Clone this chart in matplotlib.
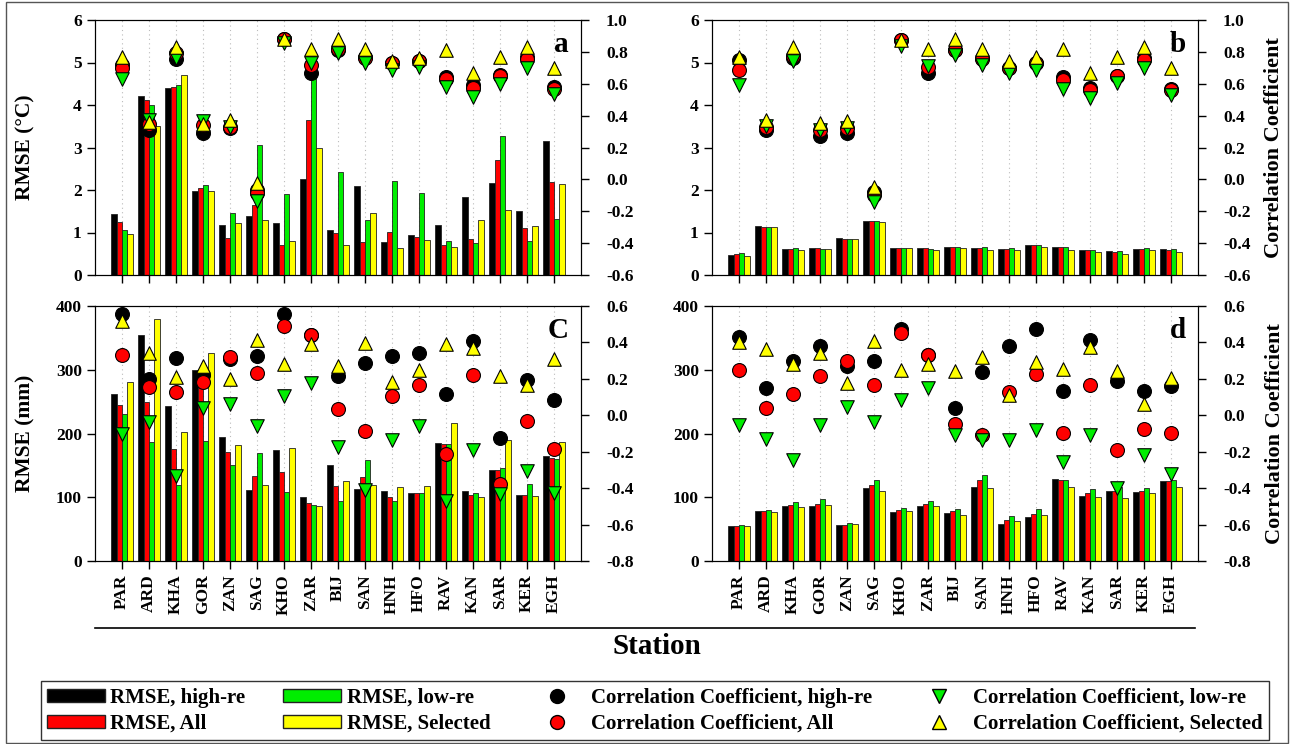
import numpy as np
import matplotlib
matplotlib.use("Agg")
from matplotlib import pyplot as plt
from matplotlib.patches import Patch, Rectangle
from matplotlib.lines import Line2D

plt.rcParams['font.family'] = ['Liberation Serif', 'DejaVu Serif']
plt.rcParams['font.weight'] = 'bold'

stations = ['PAR', 'ARD', 'KHA', 'GOR', 'ZAN', 'SAG', 'KHO', 'ZAR', 'BIJ',
            'SAN', 'HNH', 'HFO', 'RAV', 'KAN', 'SAR', 'KER', 'EGH']

# panel a - temperature RMSE (°C)
a_high = [1.43, 4.22, 4.39, 1.98, 1.18, 1.39, 1.22, 2.26, 1.05, 2.09, 0.78, 0.94, 1.18, 1.84, 2.17, 1.51, 3.15]
a_all = [1.25, 4.11, 4.42, 2.04, 0.86, 1.64, 0.71, 3.64, 1.00, 0.77, 1.01, 0.89, 0.70, 0.85, 2.71, 1.11, 2.20]
a_low = [1.07, 4.00, 4.46, 2.11, 1.45, 3.07, 1.90, 5.00, 2.43, 1.29, 2.21, 1.92, 0.80, 0.76, 3.26, 0.80, 1.31]
a_sel = [0.96, 3.50, 4.71, 1.97, 1.22, 1.30, 0.81, 2.99, 0.70, 1.46, 0.63, 0.82, 0.65, 1.29, 1.52, 1.16, 2.13]
# panel a - correlation
a_c_high = [0.72, 0.31, 0.755, 0.29, 0.32, -0.067, 0.88, 0.67, 0.81, 0.77, 0.73, 0.74, 0.64, 0.59, 0.655, 0.77, 0.578]
a_c_all = [0.697, 0.35, 0.79, 0.34, 0.33, -0.088, 0.88, 0.718, 0.82, 0.764, 0.73, 0.74, 0.628, 0.575, 0.65, 0.753, 0.57]
a_c_low = [0.628, 0.37, 0.764, 0.366, 0.33, -0.133, 0.854, 0.728, 0.795, 0.728, 0.686, 0.707, 0.58, 0.52, 0.60, 0.70, 0.536]
a_c_sel = [0.77, 0.36, 0.83, 0.35, 0.37, -0.02, 0.88, 0.82, 0.88, 0.82, 0.74, 0.76, 0.81, 0.67, 0.77, 0.83, 0.70]

# panel b
b_high = [0.47, 1.15, 0.62, 0.64, 0.87, 1.26, 0.64, 0.64, 0.67, 0.64, 0.61, 0.70, 0.66, 0.59, 0.56, 0.62, 0.61]
b_all = [0.49, 1.14, 0.62, 0.63, 0.855, 1.27, 0.64, 0.63, 0.67, 0.64, 0.61, 0.70, 0.66, 0.58, 0.55, 0.62, 0.60]
b_low = [0.51, 1.14, 0.635, 0.62, 0.855, 1.28, 0.64, 0.62, 0.67, 0.65, 0.63, 0.71, 0.67, 0.60, 0.565, 0.64, 0.61]
b_sel = [0.455, 1.12, 0.59, 0.62, 0.84, 1.25, 0.635, 0.59, 0.63, 0.60, 0.60, 0.67, 0.58, 0.55, 0.49, 0.59, 0.55]
b_c_high = [0.75, 0.31, 0.76, 0.27, 0.29, -0.077, 0.875, 0.665, 0.81, 0.76, 0.70, 0.73, 0.645, 0.575, 0.65, 0.764, 0.567]
b_c_all = [0.687, 0.33, 0.775, 0.31, 0.32, -0.098, 0.875, 0.707, 0.81, 0.753, 0.70, 0.73, 0.624, 0.56, 0.65, 0.75, 0.56]
b_c_low = [0.59, 0.335, 0.745, 0.31, 0.32, -0.14, 0.84, 0.71, 0.78, 0.72, 0.67, 0.686, 0.57, 0.51, 0.607, 0.697, 0.53]
b_c_sel = [0.77, 0.37, 0.83, 0.355, 0.366, -0.046, 0.875, 0.815, 0.88, 0.82, 0.74, 0.766, 0.815, 0.67, 0.77, 0.83, 0.70]

# panel c - precipitation RMSE (mm)
c_high = [262, 355, 243, 299, 194, 112, 174, 100, 150, 113, 110, 107, 185, 110, 142, 104, 165]
c_all = [245, 250, 175, 275, 171, 133, 139, 91, 118, 131, 101, 106, 184, 104, 143, 103, 162]
c_low = [230, 187, 120, 189, 150, 169, 109, 88, 94, 158, 94, 106, 184, 107, 146, 121, 160]
c_sel = [281, 379, 203, 327, 182, 119, 177, 87, 126, 120, 116, 118, 217, 100, 190, 102, 186]
c_c_high = [0.558, 0.20, 0.317, 0.22, 0.311, 0.325, 0.558, 0.44, 0.214, 0.287, 0.325, 0.344, 0.119, 0.406, -0.123, 0.192, 0.086]
c_c_all = [0.333, 0.153, 0.126, 0.18, 0.32, 0.232, 0.49, 0.439, 0.036, -0.086, 0.104, 0.164, -0.214, 0.219, -0.379, -0.033, -0.185]
c_c_low = [-0.101, -0.037, -0.335, 0.04, 0.064, -0.057, 0.104, 0.177, -0.174, -0.408, -0.138, -0.06, -0.47, -0.192, -0.43, -0.306, -0.427]
c_c_sel = [0.52, 0.344, 0.208, 0.273, 0.197, 0.415, 0.283, 0.393, 0.272, 0.397, 0.183, 0.25, 0.39, 0.369, 0.214, 0.168, 0.307]

# panel d
d_high = [54.4, 78.4, 85.8, 85.8, 56.5, 114.5, 77.4, 86.8, 75.3, 115.6, 57.5, 69.5, 128, 101.4, 109.3, 107.7, 125.5]
d_all = [55.4, 79, 87.8, 90, 57, 120, 79.5, 89.4, 78, 126.5, 63.8, 74.2, 126.5, 106.7, 109.3, 109.8, 125]
d_low = [57, 80.5, 92.5, 96.7, 59, 127.6, 83.7, 93.6, 82, 135.4, 71, 81.6, 127, 113.5, 116, 115, 127.6]
d_sel = [54.4, 76.3, 85.2, 87.8, 57.5, 110.3, 79, 86.8, 71.6, 115, 62.7, 72.7, 115.6, 100.4, 98.3, 107.2, 116.6]
d_c_high = [0.43, 0.152, 0.296, 0.378, 0.269, 0.298, 0.476, 0.329, 0.04, 0.236, 0.378, 0.476, 0.133, 0.411, 0.188, 0.133, 0.16]
d_c_all = [0.25, 0.04, 0.119, 0.216, 0.296, 0.168, 0.454, 0.329, -0.05, -0.11, 0.128, 0.228, -0.097, 0.168, -0.192, -0.073, -0.095]
d_c_low = [-0.055, -0.128, -0.244, -0.055, 0.045, -0.037, 0.086, 0.15, -0.11, -0.134, -0.137, -0.079, -0.257, -0.11, -0.399, -0.22, -0.32]
d_c_sel = [0.40, 0.366, 0.283, 0.342, 0.177, 0.41, 0.25, 0.283, 0.243, 0.32, 0.11, 0.293, 0.256, 0.375, 0.241, 0.064, 0.205]

bar_colors = ['#000000', '#ff0000', '#00ee00', '#ffff00']
W, H = 1291, 744


def draw_panel(rect, bars, corrs, ylim, yticks, clim, cticks, letter,
               xlabels=False, ylabel=None, clabel=False):
    ax = fig.add_axes(rect)
    x = np.arange(len(stations))
    w = 0.2
    for i, (vals, col) in enumerate(zip(bars, bar_colors)):
        ax.bar(x + (i - 1.5) * w, vals, width=w, color=col,
               edgecolor='#222222', linewidth=0.6, zorder=2)
    ax.set_xlim(-1, len(stations))
    ax.set_ylim(*ylim)
    ax.set_yticks(yticks)
    ax.set_xticks(x)
    ax.set_axisbelow(True)
    ax.xaxis.grid(True, linestyle=(0, (1, 3)), color='#bbbbbb', linewidth=0.8)
    if xlabels:
        ax.set_xticklabels(stations, rotation=90, fontsize=12, fontweight='bold')
    else:
        ax.set_xticklabels([])
    ax.tick_params(direction='out', length=6, width=1, labelsize=12.5)
    for lab in ax.get_yticklabels():
        lab.set_fontweight('bold')
    if ylabel:
        ax.set_ylabel(ylabel, fontsize=15.5, fontweight='bold')
        # both left labels sit on the same line in the original
        ax.yaxis.set_label_coords(-0.122, 0.5)

    ax2 = ax.twinx()
    ax2.scatter(x, corrs[0], s=100, marker='o', color='black', edgecolor='black', linewidth=0.8, zorder=3)
    ax2.scatter(x, corrs[1], s=100, marker='o', color='#ff0000', edgecolor='black', linewidth=0.8, zorder=3)
    ax2.scatter(x, corrs[2], s=95, marker='v', color='#00ee00', edgecolor='black', linewidth=0.8, zorder=3)
    ax2.scatter(x, corrs[3], s=95, marker='^', color='#ffff00', edgecolor='black', linewidth=0.8, zorder=3)
    ax2.set_ylim(*clim)
    ax2.set_yticks(cticks)
    ax2.set_yticklabels(['%.1f' % t if abs(t) > 1e-9 else '0.0' for t in cticks],
                        fontsize=12.5, fontweight='bold')
    ax2.tick_params(direction='out', length=6, width=1, pad=12)
    if clabel:
        ax2.set_ylabel('Correlation Coefficient', fontsize=16, fontweight='bold', labelpad=10)
    ax.text(0.975, 0.955, letter, transform=ax.transAxes, ha='right', va='top',
            fontsize=21, fontweight='bold')
    return ax


fig = plt.figure(figsize=(W / 100, H / 100), dpi=100)

wa = 486 / W
ha = 255 / H
top_b = 1 - 275 / H
bot_b = 1 - 561 / H
ct_a = [round(v, 1) for v in np.arange(-0.6, 1.01, 0.2)]
ct_c = [round(v, 1) for v in np.arange(-0.8, 0.61, 0.2)]

draw_panel([95 / W, top_b, wa, ha], [a_high, a_all, a_low, a_sel],
           [a_c_high, a_c_all, a_c_low, a_c_sel], (0, 6), range(0, 7),
           (-0.6, 1.0), ct_a, 'a', ylabel='RMSE (°C)')
draw_panel([712 / W, top_b, wa, ha], [b_high, b_all, b_low, b_sel],
           [b_c_high, b_c_all, b_c_low, b_c_sel], (0, 6), range(0, 7),
           (-0.6, 1.0), ct_a, 'b', clabel=True)
draw_panel([95 / W, bot_b, wa, ha], [c_high, c_all, c_low, c_sel],
           [c_c_high, c_c_all, c_c_low, c_c_sel], (0, 400), range(0, 401, 100),
           (-0.8, 0.6), ct_c, 'C', xlabels=True, ylabel='RMSE (mm)')
draw_panel([712 / W, bot_b, wa, ha], [d_high, d_all, d_low, d_sel],
           [d_c_high, d_c_all, d_c_low, d_c_sel], (0, 400), range(0, 401, 100),
           (-0.8, 0.6), ct_c, 'd', xlabels=True, clabel=True)

# line above the x-axis title
fig.add_artist(Line2D([95 / W, 1195 / W], [1 - 628 / H, 1 - 628 / H],
                      color='black', linewidth=1.2))
fig.text(657 / W, 1 - 646 / H, 'Station', ha='center', va='center',
         fontsize=21, fontweight='bold')

# outer frame
fig.add_artist(Rectangle((6 / W, 1 / H), 1282 / W, 741 / H, fill=False,
                         edgecolor='#555555', linewidth=1.0, transform=fig.transFigure))

handles = [Patch(facecolor='#000000', edgecolor='#222222'),
           Patch(facecolor='#ff0000', edgecolor='#222222'),
           Patch(facecolor='#00ee00', edgecolor='#222222'),
           Patch(facecolor='#ffff00', edgecolor='#222222'),
           Line2D([], [], marker='o', linestyle='none', markersize=10, color='black', markeredgecolor='black'),
           Line2D([], [], marker='o', linestyle='none', markersize=10, color='#ff0000', markeredgecolor='black'),
           Line2D([], [], marker='v', linestyle='none', markersize=10, color='#00ee00', markeredgecolor='black'),
           Line2D([], [], marker='^', linestyle='none', markersize=10, color='#ffff00', markeredgecolor='black')]
labels = ['RMSE, high-re', 'RMSE, All', 'RMSE, low-re', 'RMSE, Selected',
          'Correlation Coefficient, high-re', 'Correlation Coefficient, All',
          'Correlation Coefficient, low-re', 'Correlation Coefficient, Selected']
leg = fig.legend(handles, labels, ncol=4, loc='lower center',
                 bbox_to_anchor=(655 / W, 4 / H),
                 frameon=True, fancybox=False, edgecolor='black',
                 handlelength=2.8, handleheight=0.6, handletextpad=0.25,
                 columnspacing=1.8, borderpad=0.3, borderaxespad=0,
                 labelspacing=0.3, prop={'size': 15, 'weight': 'bold'})
leg.get_frame().set_linewidth(1.0)

fig.savefig('out.png', dpi=100)
